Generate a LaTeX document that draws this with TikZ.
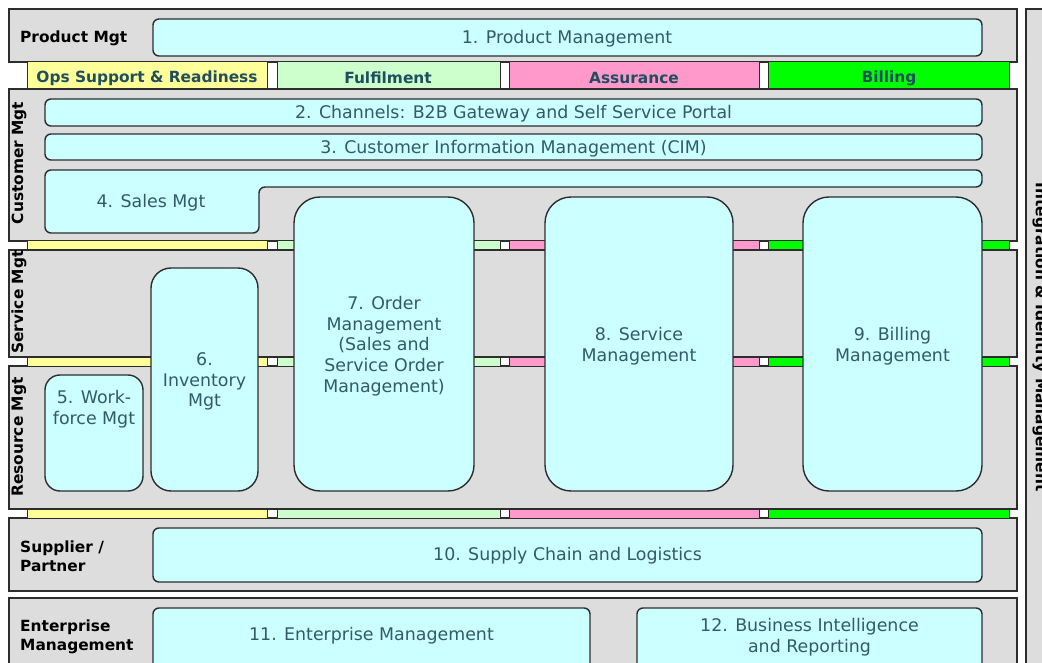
\documentclass[tikz,border=0pt]{standalone}
\usepackage{fontspec}
\setmainfont{DejaVu Sans}
\definecolor{bandgray}{RGB}{221,221,221}
\definecolor{boxcyan}{RGB}{204,255,255}
\definecolor{ylw}{RGB}{255,255,153}
\definecolor{lgrn}{RGB}{204,255,204}
\definecolor{pnk}{RGB}{255,153,204}
\definecolor{grn}{RGB}{0,255,0}
\definecolor{txtc}{RGB}{51,90,105}
\definecolor{hdrc}{RGB}{31,78,95}
\definecolor{edgec}{RGB}{45,45,45}
\newcommand{\boxfont}{\fontsize{17.4}{20.7}\selectfont}
\newcommand{\lblfont}{\bfseries\fontsize{15.4}{19}\selectfont}
\begin{document}
\begin{tikzpicture}[x=1pt,y=-1pt,
 band/.style={fill=bandgray, draw=edgec, line width=1.4pt},
 seg/.style={draw=edgec, line width=1pt},
 box/.style={draw=edgec, line width=1.4pt, fill=boxcyan, rounded corners=6pt, inner sep=0pt, text=txtc, font=\boxfont, align=center},
 boxtxt/.style={text=txtc, font=\boxfont, align=center, inner sep=0pt},
 lbl/.style={font=\lblfont, text=black, inner sep=0pt},
 hdr/.style={font=\lblfont, text=hdrc, inner sep=0pt}]
\useasboundingbox (0,0) rectangle (1042,663);
\clip (0,0) rectangle (1042,663);
% bands
\draw[band] (9,9) rectangle (1017,62);
\draw[band] (9,89) rectangle (1017,241);
\draw[band] (9,250) rectangle (1017,357);
\draw[band] (9,366) rectangle (1017,509);
\draw[band] (9,518) rectangle (1017,591);
\draw[band] (9,598) rectangle (1017,690);
\draw[band] (1026,9) rectangle (1070,690);
% strips
\foreach \ya/\yb in {62/89, 241/250, 357/366, 509/518}{
  \draw[seg, fill=ylw] (27,\ya) rectangle (267,\yb);
  \draw[seg, fill=lgrn] (277,\ya) rectangle (500,\yb);
  \draw[seg, fill=pnk] (509,\ya) rectangle (759,\yb);
  \draw[seg, fill=grn] (768,\ya) rectangle (1009,\yb);
}
% header labels
\node[hdr] (hops) at (147,78) {Ops Support \& Readiness};
\node[hdr] (hful) at (388,78) {Fulfilment};
\node[hdr] (hass) at (634,78) {Assurance};
\node[hdr] (hbil) at (889,78) {Billing};
% band labels
\node[lbl, anchor=west] (lprod) at (20,38) {Product Mgt};
\node[lbl, rotate=90] (lcust) at (19,163) {Customer Mgt};
\node[lbl, rotate=90] (lserv) at (19,302) {Service Mgt};
\node[lbl, rotate=90] (lres) at (19,437) {Resource Mgt};
\node[lbl, anchor=west, align=left] (lsup) at (20,556) {Supplier /\\Partner};
\node[lbl, anchor=west, align=left] (lent) at (20,637) {Enterprise\\Management};
\node[lbl, rotate=-90] (lint) at (1040,337) {Integration \& Identity Management};
% boxes
\node[box, minimum width=829pt, minimum height=37pt] (b1) at (567.5,37.5) {};
\node[boxtxt] (t1) at (567,39) {1. Product Management};
\node[box, minimum width=937pt, minimum height=27pt] (b2) at (513.5,112.5) {};
\node[boxtxt] (t2) at (513.5,114) {2. Channels: B2B Gateway and Self Service Portal};
\node[box, minimum width=937pt, minimum height=26pt] (b3) at (513.5,147) {};
\node[boxtxt] (t3) at (513.5,148.5) {3. Customer Information Management (CIM)};
\draw[draw=edgec, line width=1.4pt, fill=boxcyan, rounded corners=6pt]
  (45,170) -- (982,170) -- (982,187) -- (259,187) -- (259,233) -- (45,233) -- cycle;
\node[boxtxt] (b4) at (151,203) {4. Sales Mgt};
\node[box, rounded corners=15pt, minimum width=98pt, minimum height=116pt] (b5) at (94,433) {};
\node[boxtxt] (t5) at (94,409) {5. Work-\\force Mgt};
\node[box, rounded corners=20pt, minimum width=107pt, minimum height=223pt] (b6) at (204.5,379.5) {};
\node[boxtxt] (t6) at (204.5,381.5) {6.\\Inventory\\Mgt};
\node[box, rounded corners=26pt, minimum width=180pt, minimum height=294pt] (b7) at (384,344) {};
\node[boxtxt] (t7) at (384,346) {7. Order\\Management\\(Sales and\\Service Order\\Management)};
\node[box, rounded corners=26pt, minimum width=188pt, minimum height=294pt] (b8) at (639,344) {};
\node[boxtxt] (t8) at (639,346) {8. Service\\Management};
\node[box, rounded corners=26pt, minimum width=179pt, minimum height=294pt] (b9) at (892.5,344) {};
\node[boxtxt] (t9) at (892.5,346) {9. Billing\\Management};
\node[box, minimum width=829pt, minimum height=54pt] (b10) at (567.5,555) {};
\node[boxtxt] (t10) at (567.5,556) {10. Supply Chain and Logistics};
\node[box, minimum width=437pt, minimum height=82pt] (b11) at (371.5,649) {};
\node[boxtxt] (t11) at (371.5,635.5) {11. Enterprise Management};
\node[box, minimum width=345pt, minimum height=82pt] (b12) at (809.5,649) {};
\node[boxtxt] (t12) at (809.5,637) {12. Business Intelligence\\and Reporting};
\end{tikzpicture}
\end{document}
